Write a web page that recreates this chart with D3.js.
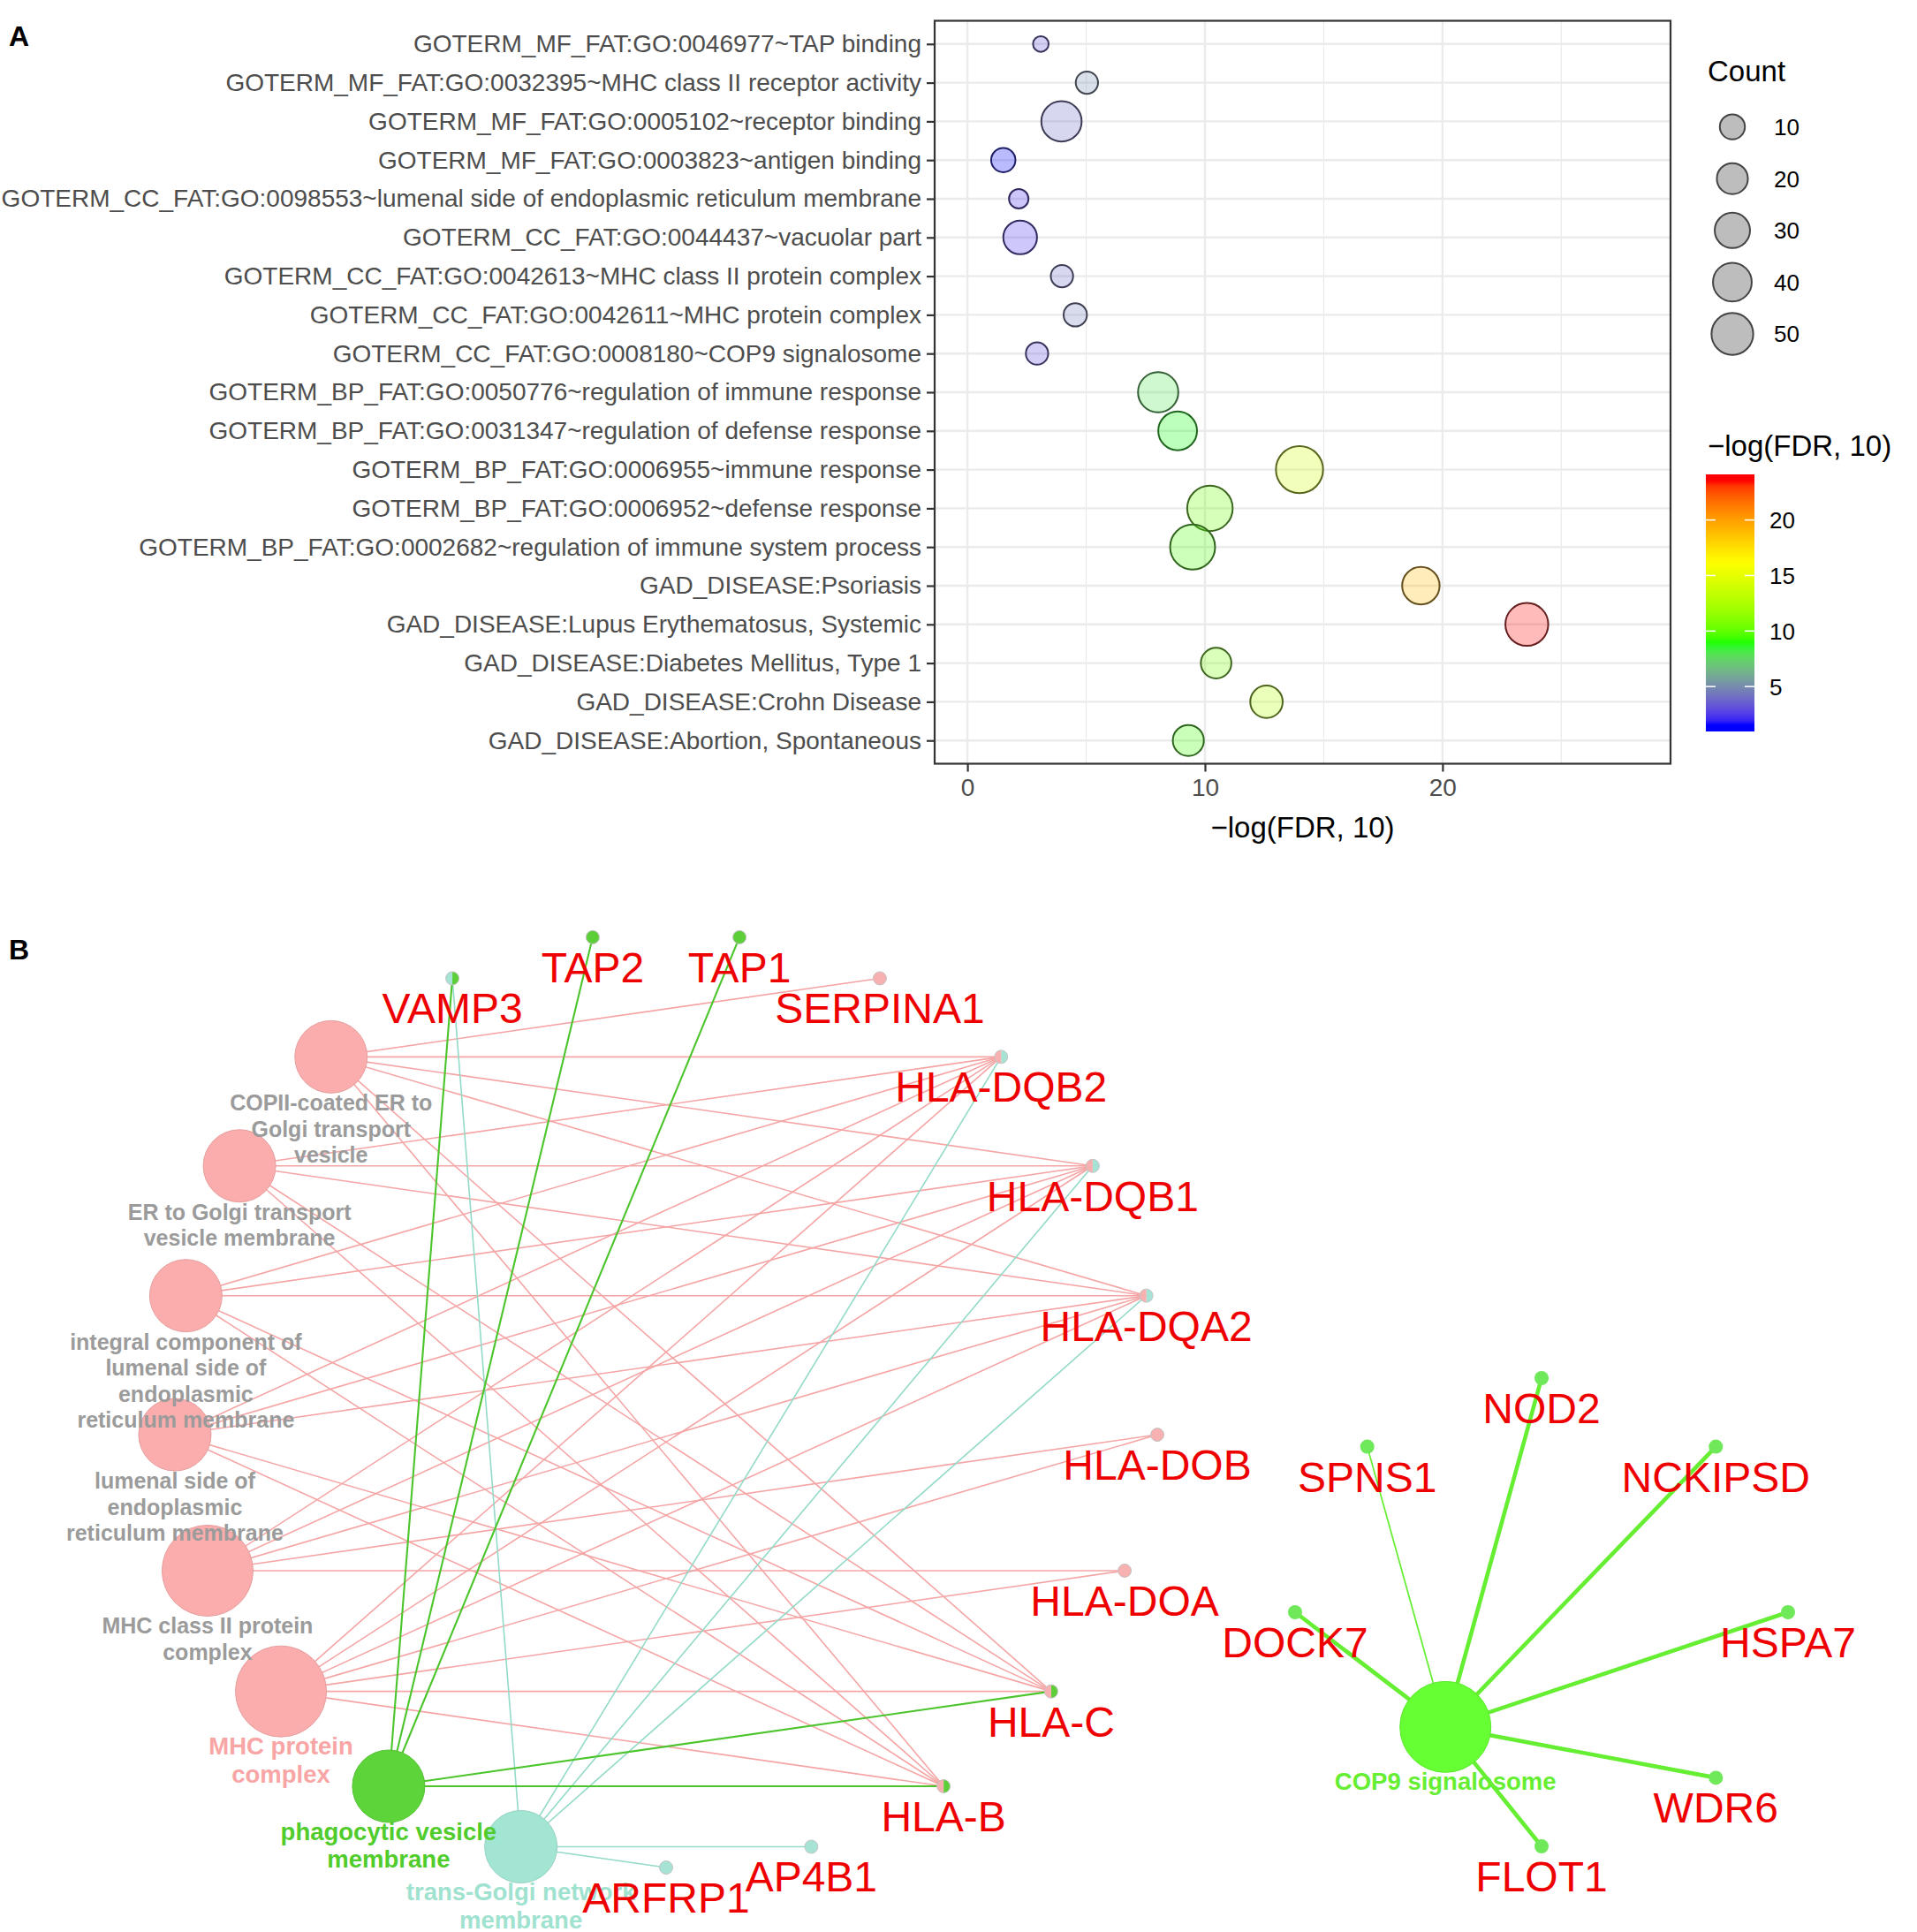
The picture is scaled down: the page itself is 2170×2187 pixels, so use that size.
<!DOCTYPE html>
<html>
<head>
<meta charset="utf-8">
<script src="https://cdn.jsdelivr.net/npm/d3@7"></script>
<style>
  body { margin: 0; background: #fff; }
  svg { display: block; font-family: "Liberation Sans", Arial, Helvetica, sans-serif; }
</style>
</head>
<body>
<svg id="chart" width="2170" height="2187"></svg>
<script>
// ---------- panel A data ----------
const terms = [
  'GOTERM_MF_FAT:GO:0046977~TAP binding',
  'GOTERM_MF_FAT:GO:0032395~MHC class II receptor activity',
  'GOTERM_MF_FAT:GO:0005102~receptor binding',
  'GOTERM_MF_FAT:GO:0003823~antigen binding',
  'GOTERM_CC_FAT:GO:0098553~lumenal side of endoplasmic reticulum membrane',
  'GOTERM_CC_FAT:GO:0044437~vacuolar part',
  'GOTERM_CC_FAT:GO:0042613~MHC class II protein complex',
  'GOTERM_CC_FAT:GO:0042611~MHC protein complex',
  'GOTERM_CC_FAT:GO:0008180~COP9 signalosome',
  'GOTERM_BP_FAT:GO:0050776~regulation of immune response',
  'GOTERM_BP_FAT:GO:0031347~regulation of defense response',
  'GOTERM_BP_FAT:GO:0006955~immune response',
  'GOTERM_BP_FAT:GO:0006952~defense response',
  'GOTERM_BP_FAT:GO:0002682~regulation of immune system process',
  'GAD_DISEASE:Psoriasis',
  'GAD_DISEASE:Lupus Erythematosus, Systemic',
  'GAD_DISEASE:Diabetes Mellitus, Type 1',
  'GAD_DISEASE:Crohn Disease',
  'GAD_DISEASE:Abortion, Spontaneous'
];
const fdrScore = [3.09, 5.03, 3.96, 1.51, 2.16, 2.22, 3.98, 4.54, 2.93, 8.03,
                  8.85, 13.98, 10.21, 9.48, 19.09, 23.55, 10.47, 12.59, 9.30];
const counts = [4, 7, 45, 9, 5, 26, 7, 8, 7, 45, 40, 71, 64, 62, 36, 54, 19, 23, 20];
const xTicks = [0, 10, 20];
const xMinorTicks = [5, 15, 25];
const countBreaks = [10, 20, 30, 40, 50];
const fdrBreaks = [5, 10, 15, 20];
const colorStops = ['#0000FF', '#00FF00', '#FFFF00', '#FF0000'];

// ---------- panel B data ----------
const ringGenes = ['ARFRP1', 'AP4B1', 'HLA-B', 'HLA-C', 'HLA-DOA', 'HLA-DOB', 'HLA-DQA2',
                   'HLA-DQB1', 'HLA-DQB2', 'SERPINA1', 'TAP1', 'TAP2', 'VAMP3'];
const ringCategories = [
  'COPII-coated ER to Golgi transport vesicle',
  'ER to Golgi transport vesicle membrane',
  'integral component of lumenal side of endoplasmic reticulum membrane',
  'lumenal side of endoplasmic reticulum membrane',
  'MHC class II protein complex',
  'MHC protein complex',
  'phagocytic vesicle membrane',
  'trans-Golgi network membrane'
];
const categoryLines = [
  ['COPII-coated ER to', 'Golgi transport', 'vesicle'],
  ['ER to Golgi transport', 'vesicle membrane'],
  ['integral component of', 'lumenal side of', 'endoplasmic', 'reticulum membrane'],
  ['lumenal side of', 'endoplasmic', 'reticulum membrane'],
  ['MHC class II protein', 'complex'],
  ['MHC protein', 'complex'],
  ['phagocytic vesicle', 'membrane'],
  ['trans-Golgi network', 'membrane']
];
const categoryGroup = ['mhc', 'mhc', 'mhc', 'mhc', 'mhc', 'mhc', 'phago', 'golgi'];
const categoryCount = [5, 5, 5, 5, 7, 7, 5, 5];
const categoryGenes = [
  ['SERPINA1', 'HLA-DQB2', 'HLA-DQB1', 'HLA-DQA2', 'HLA-C', 'HLA-B'],
  ['HLA-DQB2', 'HLA-DQB1', 'HLA-DQA2', 'HLA-C', 'HLA-B'],
  ['HLA-DQB2', 'HLA-DQB1', 'HLA-DQA2', 'HLA-C', 'HLA-B'],
  ['HLA-DQB2', 'HLA-DQB1', 'HLA-DQA2', 'HLA-C', 'HLA-B'],
  ['HLA-DQB2', 'HLA-DQB1', 'HLA-DQA2', 'HLA-DOB', 'HLA-DOA'],
  ['HLA-DQB2', 'HLA-DQB1', 'HLA-DQA2', 'HLA-DOB', 'HLA-DOA', 'HLA-C', 'HLA-B'],
  ['VAMP3', 'TAP2', 'TAP1', 'HLA-C', 'HLA-B'],
  ['VAMP3', 'HLA-DQB2', 'HLA-DQB1', 'HLA-DQA2', 'AP4B1', 'ARFRP1']
];
const cop9Name = 'COP9 signalosome';
const cop9Count = 7;
const cop9Genes = ['NOD2', 'NCKIPSD', 'HSPA7', 'WDR6', 'FLOT1', 'DOCK7', 'SPNS1'];
const cop9Slot = [0, 1, 2, 3, 4, 6, 7];
const cop9EdgeWeight = [1, 1, 1, 1, 1, 1, 0.25];
const cop9HubLayout = [-0.39, 0.49];

// ---------- styles ----------
const groupFill = { mhc: '#fbadad', phago: '#5dd43a', golgi: '#a3e5d3', cop9: '#66ff33' };
const groupEdge = { mhc: '#f5a5a5', phago: '#4cc52c', golgi: '#93dac8', cop9: '#66ee33' };
const groupLabel = { mhc: '#9b9b9b', phago: '#50cc2c', golgi: '#9fe2cf', cop9: '#66ee33' };
const dotFill = { mhc: '#f7b1b1', phago: '#5ccf38', golgi: '#a6e3d5', cop9: '#6fe85a' };
const geneRed = '#ee0000';

const svg = d3.select('#chart');

// ================= panel A =================
const plot = { left: 1058, right: 1891, top: 23.5, bottom: 864.5 };
const x = d3.scaleLinear().domain([-1.38, 29.6]).range([plot.left, plot.right]);
const y = d3.scalePoint().domain(terms).range([plot.top, plot.bottom]).padding(0.6);

const [vmin, vmax] = d3.extent(fdrScore);
const color = d3.scaleLinear()
  .domain(colorStops.map((c, i) => vmin + i * (vmax - vmin) / (colorStops.length - 1)))
  .range(colorStops)
  .interpolate(d3.interpolateLab);

const cMin = d3.min(counts), cMax = d3.max(counts);
const sizeScale = d3.scaleSqrt().domain([0, cMax - cMin]).range([0, 17.85]);
const radius = (c) => 8.85 + sizeScale(Math.max(0, c - cMin));

const gA = svg.append('g').attr('class', 'panelA');

gA.append('rect')
  .attr('x', plot.left).attr('y', plot.top)
  .attr('width', plot.right - plot.left).attr('height', plot.bottom - plot.top)
  .attr('fill', '#fff');

gA.append('g').selectAll('line')
  .data(xMinorTicks)
  .enter().append('line')
  .attr('x1', (d) => x(d)).attr('x2', (d) => x(d))
  .attr('y1', plot.top).attr('y2', plot.bottom)
  .attr('stroke', '#ebebeb').attr('stroke-width', 1.2);

gA.append('g').selectAll('line')
  .data(xTicks)
  .enter().append('line')
  .attr('x1', (d) => x(d)).attr('x2', (d) => x(d))
  .attr('y1', plot.top).attr('y2', plot.bottom)
  .attr('stroke', '#ebebeb').attr('stroke-width', 2.4);

gA.append('g').selectAll('line')
  .data(terms)
  .enter().append('line')
  .attr('x1', plot.left).attr('x2', plot.right)
  .attr('y1', (d) => y(d)).attr('y2', (d) => y(d))
  .attr('stroke', '#ebebeb').attr('stroke-width', 2.4);

const bubbles = terms.map((t, i) => ({ term: t, score: fdrScore[i], count: counts[i] }));

gA.append('g').selectAll('circle')
  .data(bubbles)
  .enter().append('circle')
  .attr('cx', (d) => x(d.score))
  .attr('cy', (d) => y(d.term))
  .attr('r', (d) => radius(d.count))
  .attr('fill', (d) => color(d.score))
  .attr('fill-opacity', 0.27)
  .attr('stroke', (d) => d3.interpolateRgb(color(d.score), '#2a2a2a')(0.72))
  .attr('stroke-width', 2);

gA.append('rect')
  .attr('x', plot.left).attr('y', plot.top)
  .attr('width', plot.right - plot.left).attr('height', plot.bottom - plot.top)
  .attr('fill', 'none').attr('stroke', '#333').attr('stroke-width', 2.2);

const yAxis = gA.append('g')
  .attr('transform', `translate(${plot.left},0)`)
  .call(d3.axisLeft(y).tickSize(9).tickPadding(6));
const xAxis = gA.append('g')
  .attr('transform', `translate(0,${plot.bottom})`)
  .call(d3.axisBottom(x).tickValues(xTicks).tickSize(9).tickPadding(8));

[yAxis, xAxis].forEach((ax) => {
  ax.select('.domain').remove();
  ax.selectAll('.tick line').attr('stroke', '#333').attr('stroke-width', 2.2);
  ax.selectAll('.tick text')
    .attr('fill', '#4d4d4d')
    .style('font-size', '28px')
    .style('font-family', '"Liberation Sans", Arial, sans-serif');
});

gA.append('text')
  .attr('x', (plot.left + plot.right) / 2).attr('y', 948)
  .attr('text-anchor', 'middle')
  .style('font-size', '33px')
  .text('\u2212log(FDR, 10)');

// size legend
const legendX = 1933;
gA.append('text')
  .attr('x', legendX).attr('y', 92)
  .style('font-size', '33px')
  .text('Count');

const keyY = d3.scaleLinear().domain([0, countBreaks.length - 1]).range([143.6, 378]);
const sizeKeys = gA.append('g').selectAll('g')
  .data(countBreaks)
  .enter().append('g')
  .attr('transform', (d, i) => `translate(0,${keyY(i)})`);
sizeKeys.append('circle')
  .attr('cx', 1961).attr('cy', 0)
  .attr('r', (d) => radius(d))
  .attr('fill', '#bdbdbd')
  .attr('stroke', '#444').attr('stroke-width', 2);
sizeKeys.append('text')
  .attr('x', 2008).attr('y', 0).attr('dy', '0.36em')
  .style('font-size', '26px')
  .text((d) => d);

// colour legend
gA.append('text')
  .attr('x', legendX).attr('y', 516)
  .style('font-size', '33px')
  .text('\u2212log(FDR, 10)');

const barTop = 537, barBottom = 828, barX = 1931, barW = 55;
const barY = d3.scaleLinear().domain([vmin, vmax]).range([barBottom - 7, barTop + 7]);
const grad = svg.append('defs').append('linearGradient')
  .attr('id', 'fdrGradient')
  .attr('x1', 0).attr('y1', 1).attr('x2', 0).attr('y2', 0);
d3.range(0, 1.0001, 0.02).forEach((t) => {
  grad.append('stop')
    .attr('offset', t)
    .attr('stop-color', color(vmin + t * (vmax - vmin)));
});
gA.append('rect')
  .attr('x', barX).attr('y', barY(vmax))
  .attr('width', barW).attr('height', barY(vmin) - barY(vmax))
  .attr('fill', 'url(#fdrGradient)');
gA.append('rect')
  .attr('x', barX).attr('y', barTop)
  .attr('width', barW).attr('height', barY(vmax) - barTop)
  .attr('fill', color(vmax));
gA.append('rect')
  .attr('x', barX).attr('y', barY(vmin))
  .attr('width', barW).attr('height', barBottom - barY(vmin))
  .attr('fill', color(vmin));

const fdrKeys = gA.append('g').selectAll('g')
  .data(fdrBreaks)
  .enter().append('g')
  .attr('transform', (d) => `translate(0,${barY(d)})`);
fdrKeys.append('line')
  .attr('x1', barX).attr('x2', barX + 11)
  .attr('stroke', '#fff').attr('stroke-width', 1.5);
fdrKeys.append('line')
  .attr('x1', barX + barW - 11).attr('x2', barX + barW)
  .attr('stroke', '#fff').attr('stroke-width', 1.5);
fdrKeys.append('text')
  .attr('x', 2003).attr('dy', '0.36em')
  .style('font-size', '26px')
  .text((d) => d);

// ================= panel B =================
const gB = svg.append('g').attr('class', 'panelB');

const ringOrder = ringGenes.concat(ringCategories);
const ringX = d3.scaleLinear().domain([-1, 1]).range([754 - 557.6, 754 + 557.6]);
const ringY = d3.scaleLinear().domain([-1, 1]).range([1584.5 - 529.5, 1584.5 + 529.5]);
const ringAngle = d3.scaleLinear().domain([0, ringOrder.length]).range([0, 2 * Math.PI]);

const pos = {};
ringOrder.forEach((name, i) => {
  const a = ringAngle(i);
  pos[name] = { x: ringX(Math.sin(a)), y: ringY(Math.cos(a)) };
});

const starX = d3.scaleLinear().domain([-1, 1]).range([1745 - 279, 1745 + 279]);
const starY = d3.scaleLinear().domain([-1, 1]).range([1825 - 265, 1825 + 265]);
const starAngle = d3.scaleLinear().domain([0, 8]).range([0, 2 * Math.PI]);
cop9Genes.forEach((g, i) => {
  const a = starAngle(cop9Slot[i]);
  pos[g] = { x: starX(Math.sin(a)), y: starY(-Math.cos(a)) };
});
pos[cop9Name] = { x: starX(cop9HubLayout[0]), y: starY(cop9HubLayout[1]) };

const nodeR = d3.scaleLinear().domain([5, 7]).range([41, 51.5]);

// edges
const edges = [];
ringCategories.forEach((cat, ci) => {
  categoryGenes[ci].forEach((g) => edges.push({ source: cat, target: g, group: categoryGroup[ci] }));
});
const widthFor = { mhc: 1.6, golgi: 1.6, phago: 2.1 };
['mhc', 'golgi', 'phago'].forEach((grp) => {
  gB.append('g').selectAll('line')
    .data(edges.filter((e) => e.group === grp))
    .enter().append('line')
    .attr('x1', (d) => pos[d.source].x).attr('y1', (d) => pos[d.source].y)
    .attr('x2', (d) => pos[d.target].x).attr('y2', (d) => pos[d.target].y)
    .attr('stroke', groupEdge[grp])
    .attr('stroke-width', widthFor[grp]);
});

const cop9Width = d3.scaleLinear().domain([0, 1]).range([0.8, 4.6]);
gB.append('g').selectAll('line')
  .data(cop9Genes.map((g, i) => ({ gene: g, w: cop9EdgeWeight[i] })))
  .enter().append('line')
  .attr('x1', pos[cop9Name].x).attr('y1', pos[cop9Name].y)
  .attr('x2', (d) => pos[d.gene].x).attr('y2', (d) => pos[d.gene].y)
  .attr('stroke', groupEdge.cop9)
  .attr('stroke-width', (d) => cop9Width(d.w));

// category nodes
const cats = ringCategories.map((c, i) => ({
  name: c, group: categoryGroup[i], count: categoryCount[i], lines: categoryLines[i]
}));
cats.push({ name: cop9Name, group: 'cop9', count: cop9Count, lines: [cop9Name] });

gB.append('g').selectAll('circle')
  .data(cats)
  .enter().append('circle')
  .attr('cx', (d) => pos[d.name].x)
  .attr('cy', (d) => pos[d.name].y)
  .attr('r', (d) => nodeR(d.count))
  .attr('fill', (d) => groupFill[d.group])
  .attr('stroke', (d) => d3.color(groupFill[d.group]).darker(0.25))
  .attr('stroke-width', 1);

// gene nodes as small pies
const sliceOrder = ['phago', 'golgi', 'mhc'];
const pie = d3.pie().sort(null).value(1);
const dotArc = d3.arc().innerRadius(0).outerRadius(7.5);
ringGenes.forEach((g) => {
  const groups = sliceOrder.filter((grp) =>
    ringCategories.some((c, ci) => categoryGroup[ci] === grp && categoryGenes[ci].includes(g)));
  const node = gB.append('g').attr('transform', `translate(${pos[g].x},${pos[g].y})`);
  node.selectAll('path')
    .data(pie(groups))
    .enter().append('path')
    .attr('d', dotArc)
    .attr('fill', (d) => dotFill[d.data]);
  node.append('circle').attr('r', 7.5)
    .attr('fill', 'none').attr('stroke', '#c4c4c4').attr('stroke-width', 1);
});
gB.append('g').selectAll('circle')
  .data(cop9Genes)
  .enter().append('circle')
  .attr('cx', (d) => pos[d].x).attr('cy', (d) => pos[d].y)
  .attr('r', 8)
  .attr('fill', dotFill.cop9);

// category labels
cats.forEach((d) => {
  const grey = d.group === 'mhc' && d.name !== 'MHC protein complex';
  const fs = grey ? 25 : 27.5;
  const lh = grey ? 29.5 : 31.5;
  const fill = d.group === 'mhc' ? (grey ? groupLabel.mhc : '#f8a5a5') : groupLabel[d.group];
  const t = gB.append('text')
    .attr('x', pos[d.name].x)
    .attr('y', pos[d.name].y + nodeR(d.count) + (grey ? 20 : 20))
    .attr('text-anchor', 'middle')
    .attr('font-weight', 'bold')
    .style('font-size', fs + 'px')
    .attr('fill', fill);
  d.lines.forEach((line, li) => {
    t.append('tspan').attr('x', pos[d.name].x).attr('dy', li === 0 ? 0 : lh).text(line);
  });
});

// gene labels
gB.append('g').selectAll('text')
  .data(ringGenes.concat(cop9Genes))
  .enter().append('text')
  .attr('x', (d) => pos[d].x)
  .attr('y', (d) => pos[d].y + 51)
  .attr('text-anchor', 'middle')
  .style('font-size', '48px')
  .attr('fill', geneRed)
  .text((d) => d);

// panel letters
svg.append('text').attr('x', 10).attr('y', 52)
  .attr('font-weight', 'bold').style('font-size', '32px').text('A');
svg.append('text').attr('x', 10).attr('y', 1086)
  .attr('font-weight', 'bold').style('font-size', '32px').text('B');
</script>
</body>
</html>
